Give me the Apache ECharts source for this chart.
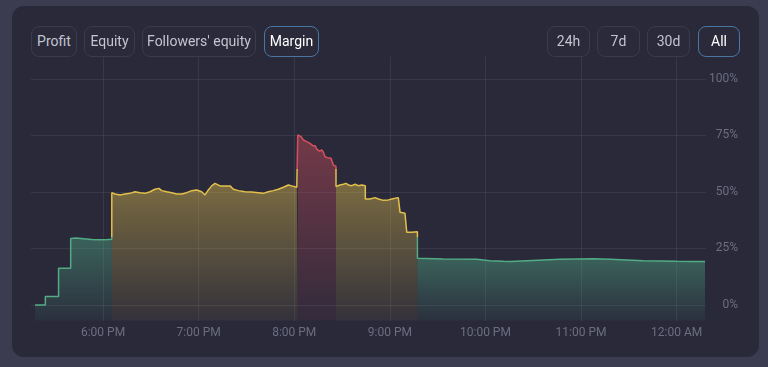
<!DOCTYPE html>
<html>
<head>
<meta charset="utf-8">
<script src="https://cdn.jsdelivr.net/npm/echarts@6/dist/echarts.min.js"></script>
<style>
  html, body { margin:0; padding:0; width:768px; height:367px; overflow:hidden; background:#3b3c50; font-family: Roboto, "Noto Sans", sans-serif; }
  #card { position:absolute; left:12px; top:6px; width:747px; height:351px; border-radius:12px; background:#29293a; }
  #chart { position:absolute; left:0; top:0; width:768px; height:367px; }
  .btn { position:absolute; top:26px; height:29px; border:1px solid #3a3b4e; border-radius:8px; color:#c3c4cf; font-size:14px; line-height:29px; text-align:center; box-sizing:content-box; z-index:2; background:#2a2a3b; }
  .btn.active { border-color:#4a76a3; color:#ffffff; }
</style>
</head>
<body>
<div id="card"></div>
<div id="chart"></div>
<div class="btn" style="left:31px;width:44px;">Profit</div>
<div class="btn" style="left:84px;width:49px;">Equity</div>
<div class="btn" style="left:142px;width:112px;">Followers' equity</div>
<div class="btn active" style="left:264px;width:53px;">Margin</div>
<div class="btn" style="left:547px;width:41px;">24h</div>
<div class="btn" style="left:597px;width:41px;">7d</div>
<div class="btn" style="left:647px;width:41px;">30d</div>
<div class="btn active" style="left:698px;width:40px;">All</div>
<script>
// time in minutes since 17:00, margin value in %
const times = [
  17.3, 23.8, 23.8, 32.1, 32.1, 39.7, 39.7, 43, 48, 53, 58, 63, 65.5,
  65.5, 67.5, 70.7, 73.8, 76.9, 80.1, 83.2, 86.4, 89.5, 92.6, 95.1, 96.8, 100.0, 103.1, 106.3, 109.4,
  112.5, 115.7, 118.8, 121.9, 124.0, 126.1, 128.2, 130.3, 133.4, 136.6, 139.7, 141.8, 144.9, 149.1,
  153.3, 157.5, 160.6, 163.7, 166.9, 170.0, 173.2, 176.3, 178.4, 181.6, 182.2,
  182.2, 183.2, 184.3, 185.7, 187.8, 189.9, 191.6, 193.1, 194.1, 195.8, 197.3, 198.3, 199.3, 200.8,
  202.0, 203.1, 204.5, 205.6, 206.2,
  206.2, 208.7, 210.8, 212.5, 214.0, 216.1, 218.2, 220.2, 222.4, 224.6, 224.6, 227.6, 230.7, 232.8,
  235.9, 239.1, 241.2, 243.3, 244.3, 245.3, 246.4, 246.4, 249.5, 250.6, 250.6, 253.7, 257.3,
  257.3, 273.6, 294.5, 302.9, 311.2, 315.4, 325.9, 336.3, 346.8, 357.3, 367.7, 378.2, 388.7, 399.1,
  409.6, 420.1, 430.5, 437.8
];
const values = [
  0, 0, 3.8, 3.8, 16.2, 16.2, 29.4, 29.6, 29.3, 29.0, 28.9, 29.0, 29.1,
  49.7, 49.1, 48.7, 49.1, 49.4, 50.1, 49.7, 49.4, 50.1, 51.2, 51.6, 50.6, 50.1, 49.7, 49.1, 49.1,
  49.7, 50.6, 50.9, 50.1, 48.7, 50.9, 52.7, 53.8, 52.7, 52.7, 52.7, 51.2, 50.6, 50.1,
  50.0, 49.7, 49.4, 50.1, 50.6, 51.2, 52.1, 53.1, 52.7, 52.1, 52.0,
  75.2, 75.2, 74.5, 73.0, 72.3, 71.5, 70.5, 70.5, 69.0, 68.1, 68.6, 67.6, 65.6, 65.2,
  65.6, 64.9, 61.9, 61.6, 61.4,
  52.4, 53.1, 53.4, 53.8, 53.1, 52.8, 53.4, 52.8, 53.1, 52.8, 46.9, 46.9, 47.5, 46.9,
  46.3, 46.5, 46.9, 47.2, 46.9, 47.5, 47.3, 41.0, 40.6, 40.8, 32.2, 32.2, 32.4,
  20.7, 20.4, 20.2, 19.6, 19.3, 19.2, 19.6, 19.9, 20.2, 20.4, 20.5, 20.2, 19.9, 19.6,
  19.5, 19.3, 19.2, 19.2
];
const xTickMinutes = [60, 120, 180, 240, 300, 360, 420];
const xTickLabels = ['6:00 PM', '7:00 PM', '8:00 PM', '9:00 PM', '10:00 PM', '11:00 PM', '12:00 AM'];
const yTicks = [0, 25, 50, 75, 100];
const thresholds = [30, 60];
const levelColors = ['#52ab85', '#e3c04b', '#d4505c'];

function level(v) { return v < thresholds[0] ? 0 : (v < thresholds[1] ? 1 : 2); }
const points = times.map((t, i) => [t, values[i]]);

// split into runs by level for area fills
const runs = [];
points.forEach(p => {
  const lv = level(p[1]);
  const last = runs[runs.length - 1];
  if (last && last.lv === lv) last.data.push(p); else runs.push({ lv: lv, data: [p] });
});

function hexA(hex, a) {
  const n = parseInt(hex.slice(1), 16);
  return 'rgba(' + (n >> 16) + ',' + ((n >> 8) & 255) + ',' + (n & 255) + ',' + a + ')';
}

const series = runs.map(r => ({
  type: 'line', data: r.data, showSymbol: false, silent: true,
  lineStyle: { width: 0, opacity: 0 },
  areaStyle: {
    origin: 'start', opacity: 1,
    color: { type: 'linear', x: 0, y: 0, x2: 0, y2: 1, colorStops: [
      { offset: 0, color: hexA(levelColors[r.lv], 0.44) },
      { offset: 1, color: hexA(levelColors[r.lv], 0.06) }
    ] }
  },
  z: 1
}));
series.push({
  type: 'line', data: points, showSymbol: false, silent: true,
  lineStyle: { width: 1.5 }, z: 3
});

const chart = echarts.init(document.getElementById('chart'), null, { renderer: 'canvas' });
chart.setOption({
  animation: false,
  backgroundColor: 'transparent',
  grid: { left: 31, right: 62, top: 56.4, bottom: 46.2, containLabel: false, outerBoundsMode: 'none' },
  visualMap: {
    show: false, type: 'piecewise', seriesIndex: series.length - 1, dimension: 1,
    pieces: [
      { lt: thresholds[0], color: levelColors[0] },
      { gte: thresholds[0], lt: thresholds[1], color: levelColors[1] },
      { gte: thresholds[1], color: levelColors[2] }
    ]
  },
  xAxis: {
    type: 'value', min: 14.8, max: 438.4,
    axisLine: { show: false },
    axisTick: { show: false, customValues: xTickMinutes },
    axisLabel: {
      customValues: xTickMinutes, color: '#6c6d7e', fontSize: 12, fontFamily: 'Roboto', margin: 6,
      formatter: v => xTickLabels[xTickMinutes.indexOf(v)]
    },
    splitLine: { show: true, lineStyle: { color: 'rgba(255,255,255,0.07)', width: 1 } }
  },
  yAxis: {
    type: 'value', position: 'right', min: -7, max: 110,
    axisLine: { show: false },
    axisTick: { show: false, customValues: yTicks },
    axisLabel: {
      customValues: yTicks, color: '#6c6d7e', fontSize: 12, fontFamily: 'Roboto', align: 'right', margin: 32,
      formatter: v => v + '%'
    },
    splitLine: { show: true, lineStyle: { color: 'rgba(255,255,255,0.07)', width: 1 } }
  },
  series: series
});
</script>
</body>
</html>
